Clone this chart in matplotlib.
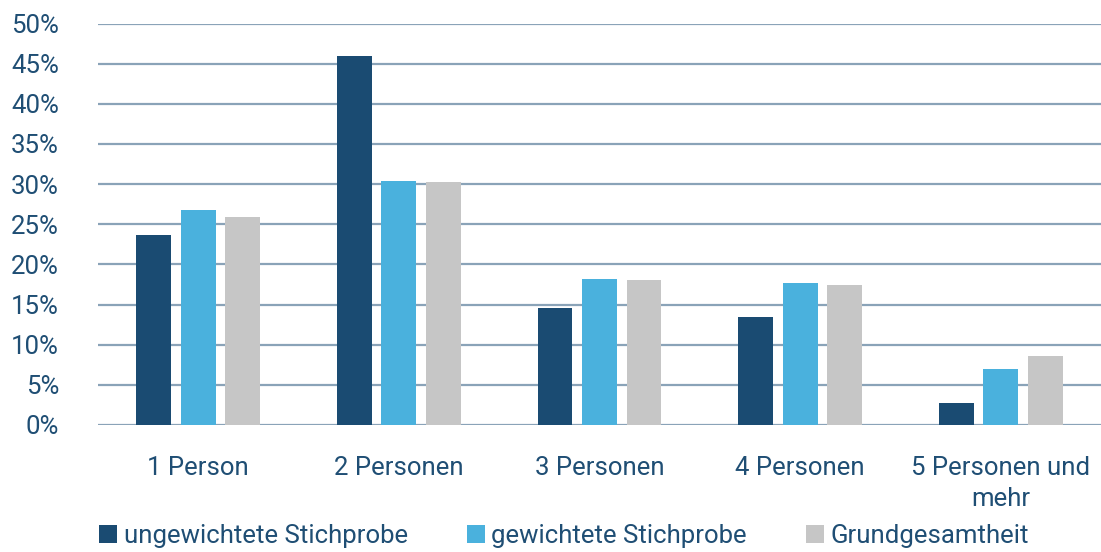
import matplotlib.pyplot as plt
import numpy as np
from matplotlib.ticker import FuncFormatter, MultipleLocator

categories = ["1 Person", "2 Personen", "3 Personen", "4 Personen", "5 Personen und\nmehr"]
series_names = ["ungewichtete Stichprobe", "gewichtete Stichprobe", "Grundgesamtheit"]
ungewichtet = [23.6, 45.9, 14.6, 13.4, 2.7]
gewichtet = [26.8, 30.4, 18.2, 17.7, 7.0]
grundgesamtheit = [25.9, 30.2, 18.1, 17.4, 8.6]
colors = ["#1a4b72", "#4ab1dd", "#c6c6c6"]
text_color = "#1f4e74"
grid_color = "#8aa3b8"

plt.rcParams['font.family'] = ['Roboto', 'DejaVu Sans']

fig = plt.figure(figsize=(11.01, 5.52), dpi=100)
ax = fig.add_axes([98 / 1101, 1 - 425 / 552, 1 - 98 / 1101, (425 - 23.5) / 552])

x = np.arange(len(categories))
width = 0.174
step = 0.222
for i, (vals, name, c) in enumerate(zip([ungewichtet, gewichtet, grundgesamtheit], series_names, colors)):
    ax.bar(x + (i - 1) * step, vals, width, color=c, label=name, zorder=3)

ax.set_xlim(-0.5, len(categories) - 0.5)
ax.set_ylim(0, 50)
ax.yaxis.set_major_locator(MultipleLocator(5))
ax.yaxis.set_major_formatter(FuncFormatter(lambda v, p: f"{v:.0f}%"))
ax.grid(axis='y', color=grid_color, linewidth=1.6, zorder=0)
for s in ax.spines.values():
    s.set_visible(False)
ax.tick_params(axis='both', length=0, labelsize=18.5, labelcolor=text_color)
ax.tick_params(axis='y', pad=28)
ax.tick_params(axis='x', pad=22)
ax.set_xticks(x)
ax.set_xticklabels(categories, linespacing=1.4)
for lbl in ax.get_yticklabels():
    lbl.set_horizontalalignment('right')

leg = fig.legend(loc='lower left', bbox_to_anchor=(0.069, -0.034), ncol=3, frameon=False,
                 fontsize=18.5, handlelength=0.7, handleheight=0.7, handletextpad=0.25,
                 columnspacing=2.3, labelcolor=text_color)

fig.savefig("out.png", dpi=100)
